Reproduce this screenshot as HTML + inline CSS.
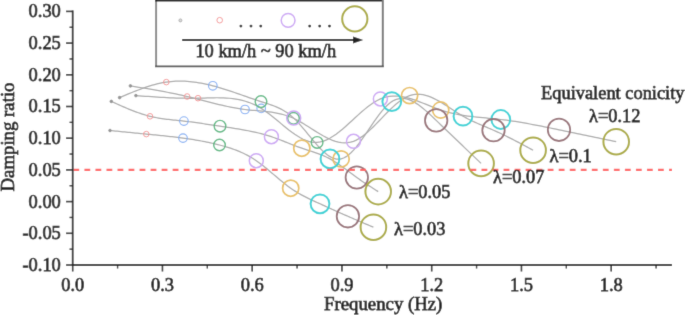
<!DOCTYPE html>
<html><head><meta charset="utf-8"><style>
html,body{margin:0;padding:0;background:#fff;}
body{width:685px;height:315px;overflow:hidden;}
svg{display:block;}
.t{font-family:"Liberation Serif",serif;font-size:18.4px;fill:#222;stroke:#222;stroke-width:0.75px;}
.ax{font-size:18.8px;}
</style></head><body>
<svg width="685" height="315" viewBox="0 0 685 315">
<defs><filter id="bl" filterUnits="userSpaceOnUse" x="0" y="0" width="685" height="315"><feConvolveMatrix order="3" kernelMatrix="0.01134 0.08382 0.01134 0.08382 0.61935 0.08382 0.01134 0.08382 0.01134" divisor="1" edgeMode="duplicate" preserveAlpha="false"/></filter></defs>
<g filter="url(#bl)">
<rect x="0" y="0" width="685" height="315" fill="#fff"/>
<path d="M110.00,130.50 L111.81,130.68 L113.63,130.86 L115.45,131.04 L117.26,131.23 L119.08,131.41 L120.89,131.59 L122.70,131.77 L124.52,131.95 L126.34,132.13 L128.15,132.31 L129.97,132.49 L131.78,132.67 L133.59,132.85 L135.41,133.03 L137.23,133.21 L139.04,133.39 L140.86,133.57 L142.67,133.75 L144.49,133.92 L146.30,134.10 L148.14,134.28 L149.97,134.46 L151.81,134.64 L153.64,134.81 L155.48,134.99 L157.31,135.18 L159.15,135.36 L160.98,135.55 L162.81,135.73 L164.65,135.93 L166.49,136.12 L168.32,136.32 L170.16,136.52 L171.99,136.73 L173.82,136.95 L175.66,137.16 L177.50,137.39 L179.33,137.62 L181.16,137.86 L183.00,138.10 L184.82,138.35 L186.65,138.61 L188.47,138.87 L190.30,139.15 L192.12,139.43 L193.95,139.73 L195.78,140.03 L197.60,140.34 L199.43,140.66 L201.25,141.00 L203.07,141.34 L204.90,141.70 L206.72,142.06 L208.55,142.44 L210.38,142.84 L212.20,143.24 L214.03,143.66 L215.85,144.09 L217.68,144.54 L219.50,145.00 L221.34,145.48 L223.18,145.98 L225.02,146.49 L226.86,147.03 L228.70,147.60 L230.54,148.19 L232.38,148.81 L234.22,149.47 L236.06,150.15 L237.90,150.88 L239.74,151.64 L241.58,152.45 L243.42,153.30 L245.26,154.20 L247.10,155.14 L248.94,156.14 L250.78,157.19 L252.62,158.30 L254.46,159.47 L256.30,160.70 L258.02,161.91 L259.74,163.16 L261.46,164.46 L263.18,165.80 L264.90,167.18 L266.62,168.58 L268.34,170.01 L270.06,171.45 L271.78,172.91 L273.50,174.37 L275.22,175.83 L276.94,177.30 L278.66,178.75 L280.38,180.19 L282.10,181.60 L283.82,183.00 L285.54,184.36 L287.26,185.68 L288.98,186.96 L290.70,188.20 L292.16,189.21 L293.63,190.19 L295.09,191.13 L296.56,192.04 L298.02,192.92 L299.49,193.77 L300.95,194.60 L302.42,195.40 L303.88,196.17 L305.35,196.93 L306.81,197.67 L308.28,198.39 L309.75,199.10 L311.21,199.79 L312.68,200.48 L314.14,201.15 L315.61,201.82 L317.07,202.48 L318.54,203.14 L320.00,203.80 L321.39,204.43 L322.79,205.06 L324.19,205.69 L325.58,206.32 L326.98,206.95 L328.37,207.57 L329.76,208.20 L331.16,208.83 L332.56,209.46 L333.95,210.09 L335.34,210.72 L336.74,211.34 L338.13,211.97 L339.53,212.59 L340.92,213.22 L342.32,213.84 L343.71,214.46 L345.11,215.07 L346.50,215.69 L347.90,216.30 L349.24,216.89 L350.58,217.47 L351.93,218.05 L353.27,218.64 L354.61,219.21 L355.95,219.79 L357.29,220.37 L358.64,220.94 L359.98,221.52 L361.32,222.09 L362.66,222.66 L364.01,223.23 L365.35,223.80 L366.69,224.37 L368.03,224.93 L369.37,225.50 L370.72,226.07 L372.06,226.63 L373.40,227.20" fill="none" stroke="#aaaaaa" stroke-width="1.25"/>
<path d="M111.30,101.40 L113.23,102.28 L115.17,103.15 L117.10,104.03 L119.04,104.89 L120.97,105.75 L122.91,106.60 L124.84,107.44 L126.78,108.26 L128.72,109.06 L130.65,109.85 L132.59,110.62 L134.52,111.37 L136.45,112.09 L138.39,112.78 L140.32,113.45 L142.26,114.09 L144.19,114.70 L146.13,115.27 L148.06,115.80 L150.00,116.30 L151.69,116.70 L153.39,117.08 L155.09,117.43 L156.78,117.75 L158.47,118.05 L160.17,118.33 L161.87,118.59 L163.56,118.83 L165.25,119.06 L166.95,119.27 L168.65,119.47 L170.34,119.67 L172.03,119.85 L173.73,120.03 L175.43,120.21 L177.12,120.38 L178.81,120.56 L180.51,120.73 L182.21,120.91 L183.90,121.10 L185.71,121.31 L187.51,121.52 L189.31,121.75 L191.12,121.98 L192.93,122.22 L194.73,122.46 L196.53,122.71 L198.34,122.96 L200.15,123.22 L201.95,123.48 L203.75,123.75 L205.56,124.02 L207.37,124.29 L209.17,124.56 L210.97,124.84 L212.78,125.11 L214.59,125.38 L216.39,125.66 L218.19,125.93 L220.00,126.20 L222.57,126.58 L225.14,126.96 L227.71,127.34 L230.28,127.72 L232.85,128.11 L235.42,128.51 L237.99,128.93 L240.56,129.35 L243.13,129.80 L245.70,130.26 L248.27,130.75 L250.84,131.27 L253.41,131.82 L255.98,132.39 L258.55,133.01 L261.12,133.66 L263.69,134.35 L266.26,135.09 L268.83,135.87 L271.40,136.70 L272.92,137.22 L274.44,137.75 L275.96,138.30 L277.48,138.86 L279.00,139.43 L280.52,140.01 L282.04,140.60 L283.56,141.20 L285.08,141.80 L286.60,142.40 L288.12,143.00 L289.64,143.61 L291.16,144.21 L292.68,144.80 L294.20,145.39 L295.72,145.98 L297.24,146.55 L298.76,147.11 L300.28,147.66 L301.80,148.20 L303.21,148.68 L304.62,149.15 L306.03,149.62 L307.44,150.08 L308.85,150.53 L310.26,150.99 L311.67,151.44 L313.08,151.91 L314.49,152.38 L315.90,152.86 L317.31,153.36 L318.72,153.87 L320.13,154.40 L321.54,154.95 L322.95,155.53 L324.36,156.14 L325.77,156.78 L327.18,157.45 L328.59,158.15 L330.00,158.90 L331.34,159.65 L332.68,160.43 L334.02,161.24 L335.36,162.08 L336.70,162.95 L338.04,163.85 L339.38,164.76 L340.72,165.70 L342.06,166.65 L343.40,167.62 L344.74,168.60 L346.08,169.59 L347.42,170.58 L348.76,171.58 L350.10,172.58 L351.44,173.58 L352.78,174.57 L354.12,175.56 L355.46,176.53 L356.80,177.50 L357.93,178.30 L359.05,179.09 L360.18,179.88 L361.31,180.65 L362.43,181.42 L363.56,182.17 L364.68,182.93 L365.81,183.67 L366.94,184.41 L368.06,185.15 L369.19,185.87 L370.32,186.60 L371.44,187.32 L372.57,188.04 L373.69,188.75 L374.82,189.47 L375.95,190.18 L377.07,190.89 L378.20,191.60" fill="none" stroke="#aaaaaa" stroke-width="1.25"/>
<path d="M119.60,97.60 L121.94,96.61 L124.27,95.63 L126.60,94.65 L128.94,93.68 L131.28,92.72 L133.61,91.78 L135.94,90.86 L138.28,89.96 L140.62,89.09 L142.95,88.24 L145.28,87.43 L147.62,86.65 L149.96,85.92 L152.29,85.22 L154.62,84.57 L156.96,83.97 L159.30,83.41 L161.63,82.92 L163.97,82.48 L166.30,82.10 L168.62,81.79 L170.95,81.54 L173.28,81.34 L175.60,81.21 L177.93,81.14 L180.25,81.12 L182.58,81.16 L184.90,81.24 L187.23,81.38 L189.55,81.57 L191.88,81.80 L194.20,82.09 L196.53,82.41 L198.85,82.78 L201.18,83.19 L203.50,83.64 L205.83,84.13 L208.15,84.65 L210.48,85.21 L212.80,85.80 L215.21,86.45 L217.62,87.12 L220.03,87.83 L222.44,88.56 L224.85,89.32 L227.26,90.09 L229.67,90.88 L232.08,91.69 L234.49,92.51 L236.90,93.34 L239.31,94.18 L241.72,95.02 L244.13,95.87 L246.54,96.71 L248.95,97.55 L251.36,98.38 L253.77,99.21 L256.18,100.02 L258.59,100.82 L261.00,101.60 L262.63,102.12 L264.27,102.64 L265.90,103.16 L267.54,103.69 L269.18,104.23 L270.81,104.79 L272.44,105.38 L274.08,106.00 L275.71,106.66 L277.35,107.37 L278.99,108.12 L280.62,108.93 L282.25,109.80 L283.89,110.74 L285.52,111.75 L287.16,112.84 L288.79,114.01 L290.43,115.27 L292.06,116.64 L293.70,118.10 L296.07,120.41 L298.44,122.90 L300.81,125.56 L303.18,128.33 L305.55,131.18 L307.92,134.07 L310.29,136.98 L312.66,139.86 L315.03,142.67 L317.40,145.38 L319.77,147.95 L322.14,150.35 L324.51,152.54 L326.88,154.48 L329.25,156.14 L331.62,157.48 L333.99,158.46 L336.36,159.05 L338.73,159.21 L341.10,158.90 L343.64,158.03 L346.17,156.64 L348.71,154.77 L351.24,152.49 L353.78,149.84 L356.31,146.87 L358.85,143.65 L361.38,140.21 L363.92,136.62 L366.45,132.92 L368.99,129.16 L371.52,125.41 L374.06,121.71 L376.59,118.11 L379.12,114.66 L381.66,111.43 L384.19,108.45 L386.73,105.79 L389.26,103.48 L391.80,101.60 L394.02,100.32 L396.24,99.39 L398.46,98.78 L400.68,98.47 L402.90,98.45 L405.12,98.70 L407.34,99.21 L409.56,99.94 L411.78,100.89 L414.00,102.04 L416.22,103.37 L418.44,104.85 L420.66,106.48 L422.88,108.24 L425.10,110.10 L427.32,112.06 L429.54,114.08 L431.76,116.16 L433.98,118.27 L436.20,120.40 L438.56,122.67 L440.93,124.94 L443.29,127.20 L445.65,129.47 L448.02,131.74 L450.38,134.00 L452.74,136.26 L455.11,138.53 L457.47,140.79 L459.83,143.05 L462.19,145.32 L464.56,147.58 L466.92,149.84 L469.28,152.10 L471.65,154.36 L474.01,156.62 L476.37,158.88 L478.74,161.14 L481.10,163.40" fill="none" stroke="#aaaaaa" stroke-width="1.25"/>
<path d="M130.40,85.90 L133.24,86.36 L136.07,86.82 L138.91,87.28 L141.74,87.75 L144.57,88.22 L147.41,88.69 L150.25,89.18 L153.08,89.66 L155.91,90.16 L158.75,90.67 L161.59,91.19 L164.42,91.72 L167.25,92.26 L170.09,92.81 L172.93,93.39 L175.76,93.97 L178.59,94.58 L181.43,95.20 L184.26,95.84 L187.10,96.50 L190.00,97.20 L192.89,97.91 L195.78,98.64 L198.68,99.38 L201.57,100.12 L204.47,100.87 L207.37,101.62 L210.26,102.36 L213.16,103.10 L216.05,103.82 L218.94,104.53 L221.84,105.21 L224.74,105.87 L227.63,106.51 L230.53,107.11 L233.42,107.67 L236.31,108.20 L239.21,108.68 L242.11,109.12 L245.00,109.50 L247.43,109.78 L249.85,110.03 L252.28,110.26 L254.70,110.47 L257.12,110.68 L259.55,110.89 L261.98,111.10 L264.40,111.33 L266.82,111.59 L269.25,111.88 L271.68,112.21 L274.10,112.59 L276.52,113.02 L278.95,113.52 L281.38,114.09 L283.80,114.74 L286.23,115.48 L288.65,116.31 L291.07,117.25 L293.50,118.30 L296.50,119.76 L299.50,121.36 L302.50,123.09 L305.50,124.91 L308.50,126.79 L311.50,128.70 L314.50,130.61 L317.50,132.48 L320.50,134.30 L323.50,136.01 L326.50,137.61 L329.50,139.05 L332.50,140.30 L335.50,141.34 L338.50,142.13 L341.50,142.64 L344.50,142.85 L347.50,142.71 L350.50,142.21 L353.50,141.30 L356.31,140.07 L359.11,138.51 L361.92,136.64 L364.72,134.51 L367.52,132.16 L370.33,129.62 L373.13,126.93 L375.94,124.12 L378.75,121.25 L381.55,118.33 L384.36,115.42 L387.16,112.56 L389.97,109.76 L392.77,107.09 L395.58,104.57 L398.38,102.24 L401.19,100.14 L403.99,98.31 L406.80,96.78 L409.60,95.60 L412.27,94.82 L414.94,94.36 L417.61,94.21 L420.28,94.33 L422.95,94.71 L425.62,95.33 L428.29,96.16 L430.96,97.18 L433.63,98.37 L436.30,99.70 L438.97,101.16 L441.64,102.72 L444.31,104.36 L446.98,106.05 L449.65,107.79 L452.32,109.53 L454.99,111.27 L457.66,112.97 L460.33,114.62 L463.00,116.20 L464.52,117.06 L466.05,117.89 L467.57,118.69 L469.10,119.47 L470.62,120.22 L472.15,120.95 L473.68,121.66 L475.20,122.36 L476.73,123.04 L478.25,123.71 L479.77,124.37 L481.30,125.02 L482.82,125.66 L484.35,126.31 L485.88,126.95 L487.40,127.59 L488.93,128.23 L490.45,128.88 L491.98,129.53 L493.50,130.20 L495.58,131.13 L497.67,132.07 L499.75,133.04 L501.84,134.03 L503.92,135.03 L506.01,136.04 L508.09,137.08 L510.17,138.12 L512.26,139.18 L514.34,140.25 L516.43,141.33 L518.51,142.42 L520.59,143.52 L522.68,144.62 L524.76,145.73 L526.85,146.84 L528.93,147.96 L531.02,149.08 L533.10,150.20" fill="none" stroke="#aaaaaa" stroke-width="1.25"/>
<path d="M135.90,95.60 L139.00,95.83 L142.11,96.05 L145.22,96.27 L148.32,96.49 L151.43,96.70 L154.53,96.91 L157.63,97.10 L160.74,97.29 L163.84,97.46 L166.95,97.62 L170.06,97.77 L173.16,97.90 L176.26,98.01 L179.37,98.11 L182.47,98.18 L185.58,98.23 L188.69,98.26 L191.79,98.27 L194.89,98.25 L198.00,98.20 L201.16,98.12 L204.32,98.03 L207.48,97.93 L210.64,97.85 L213.80,97.78 L216.96,97.75 L220.12,97.77 L223.28,97.85 L226.44,98.01 L229.60,98.25 L232.76,98.60 L235.92,99.06 L239.08,99.64 L242.24,100.37 L245.40,101.25 L248.56,102.29 L251.72,103.52 L254.88,104.93 L258.04,106.56 L261.20,108.40 L264.00,110.22 L266.79,112.19 L269.58,114.28 L272.38,116.47 L275.18,118.74 L277.97,121.05 L280.76,123.37 L283.56,125.68 L286.36,127.95 L289.15,130.16 L291.94,132.27 L294.74,134.25 L297.54,136.09 L300.33,137.74 L303.12,139.20 L305.92,140.41 L308.72,141.37 L311.51,142.04 L314.31,142.39 L317.10,142.40 L320.27,141.97 L323.43,141.11 L326.60,139.86 L329.76,138.25 L332.93,136.33 L336.09,134.15 L339.25,131.74 L342.42,129.15 L345.58,126.42 L348.75,123.58 L351.92,120.69 L355.08,117.78 L358.25,114.89 L361.41,112.07 L364.57,109.36 L367.74,106.80 L370.90,104.43 L374.07,102.30 L377.23,100.44 L380.40,98.90 L383.41,97.76 L386.43,96.92 L389.44,96.36 L392.46,96.07 L395.47,96.02 L398.49,96.19 L401.50,96.56 L404.52,97.11 L407.53,97.82 L410.55,98.66 L413.56,99.62 L416.58,100.68 L419.59,101.81 L422.61,102.99 L425.62,104.20 L428.64,105.42 L431.65,106.64 L434.67,107.82 L437.69,108.95 L440.70,110.00 L443.70,110.96 L446.71,111.84 L449.71,112.63 L452.72,113.34 L455.73,113.99 L458.73,114.57 L461.74,115.10 L464.74,115.58 L467.75,116.01 L470.75,116.40 L473.75,116.75 L476.76,117.08 L479.76,117.39 L482.77,117.69 L485.77,117.98 L488.78,118.26 L491.79,118.55 L494.79,118.85 L497.80,119.16 L500.80,119.50 L503.71,119.85 L506.62,120.23 L509.53,120.63 L512.44,121.05 L515.35,121.49 L518.26,121.96 L521.17,122.44 L524.08,122.94 L526.99,123.46 L529.90,123.99 L532.81,124.53 L535.72,125.08 L538.63,125.65 L541.54,126.23 L544.45,126.81 L547.36,127.40 L550.27,127.99 L553.18,128.59 L556.09,129.20 L559.00,129.80 L562.01,130.43 L565.02,131.05 L568.03,131.68 L571.04,132.30 L574.05,132.93 L577.06,133.55 L580.07,134.18 L583.08,134.81 L586.09,135.43 L589.11,136.06 L592.12,136.69 L595.13,137.31 L598.14,137.94 L601.15,138.57 L604.16,139.19 L607.17,139.82 L610.18,140.45 L613.19,141.07 L616.20,141.70" fill="none" stroke="#aaaaaa" stroke-width="1.25"/>
<circle cx="110" cy="130.5" r="1.3" fill="#959595" stroke="#959595" stroke-width="1.0"/>
<circle cx="111.3" cy="101.4" r="1.3" fill="#959595" stroke="#959595" stroke-width="1.0"/>
<circle cx="119.6" cy="97.6" r="1.3" fill="#959595" stroke="#959595" stroke-width="1.0"/>
<circle cx="130.4" cy="85.9" r="1.3" fill="#959595" stroke="#959595" stroke-width="1.0"/>
<circle cx="135.9" cy="95.6" r="1.3" fill="#959595" stroke="#959595" stroke-width="1.0"/>
<circle cx="146.3" cy="134.1" r="2.8" fill="none" stroke="#f39494" stroke-width="0.95"/>
<circle cx="150" cy="116.3" r="2.8" fill="none" stroke="#f39494" stroke-width="0.95"/>
<circle cx="166.3" cy="82.1" r="2.8" fill="none" stroke="#f39494" stroke-width="0.95"/>
<circle cx="187.1" cy="96.5" r="2.8" fill="none" stroke="#f39494" stroke-width="0.95"/>
<circle cx="198" cy="98.2" r="2.8" fill="none" stroke="#f39494" stroke-width="0.95"/>
<circle cx="183" cy="138.1" r="4.3" fill="none" stroke="#86b0f3" stroke-width="1.15"/>
<circle cx="183.9" cy="121.1" r="4.3" fill="none" stroke="#86b0f3" stroke-width="1.15"/>
<circle cx="212.8" cy="85.8" r="4.3" fill="none" stroke="#86b0f3" stroke-width="1.15"/>
<circle cx="245" cy="109.5" r="4.3" fill="none" stroke="#86b0f3" stroke-width="1.15"/>
<circle cx="261.2" cy="108.4" r="4.3" fill="none" stroke="#86b0f3" stroke-width="1.15"/>
<circle cx="219.5" cy="145" r="5.8" fill="none" stroke="#5cb882" stroke-width="1.4"/>
<circle cx="220" cy="126.2" r="5.8" fill="none" stroke="#5cb882" stroke-width="1.4"/>
<circle cx="261" cy="101.6" r="5.8" fill="none" stroke="#5cb882" stroke-width="1.4"/>
<circle cx="293.5" cy="118.3" r="5.8" fill="none" stroke="#5cb882" stroke-width="1.4"/>
<circle cx="317.1" cy="142.4" r="5.8" fill="none" stroke="#5cb882" stroke-width="1.4"/>
<circle cx="256.3" cy="160.7" r="7.0" fill="none" stroke="#cda8f4" stroke-width="1.5"/>
<circle cx="271.4" cy="136.7" r="7.0" fill="none" stroke="#cda8f4" stroke-width="1.5"/>
<circle cx="293.7" cy="118.1" r="7.0" fill="none" stroke="#cda8f4" stroke-width="1.5"/>
<circle cx="353.5" cy="141.3" r="7.0" fill="none" stroke="#cda8f4" stroke-width="1.5"/>
<circle cx="380.4" cy="98.9" r="7.0" fill="none" stroke="#cda8f4" stroke-width="1.5"/>
<circle cx="290.7" cy="188.2" r="8.1" fill="none" stroke="#e8c063" stroke-width="1.7"/>
<circle cx="301.8" cy="148.2" r="8.1" fill="none" stroke="#e8c063" stroke-width="1.7"/>
<circle cx="341.1" cy="158.9" r="8.1" fill="none" stroke="#e8c063" stroke-width="1.7"/>
<circle cx="409.6" cy="95.6" r="8.1" fill="none" stroke="#e8c063" stroke-width="1.7"/>
<circle cx="440.7" cy="110" r="8.1" fill="none" stroke="#e8c063" stroke-width="1.7"/>
<circle cx="320" cy="203.8" r="9.4" fill="none" stroke="#36d2d6" stroke-width="2.0"/>
<circle cx="330" cy="158.9" r="9.4" fill="none" stroke="#36d2d6" stroke-width="2.0"/>
<circle cx="391.8" cy="101.6" r="9.4" fill="none" stroke="#36d2d6" stroke-width="2.0"/>
<circle cx="463" cy="116.2" r="9.4" fill="none" stroke="#36d2d6" stroke-width="2.0"/>
<circle cx="500.8" cy="119.5" r="9.4" fill="none" stroke="#36d2d6" stroke-width="2.0"/>
<circle cx="347.9" cy="216.3" r="11.2" fill="none" stroke="#987278" stroke-width="1.8"/>
<circle cx="356.8" cy="177.5" r="11.2" fill="none" stroke="#987278" stroke-width="1.8"/>
<circle cx="436.2" cy="120.4" r="11.2" fill="none" stroke="#987278" stroke-width="1.8"/>
<circle cx="493.5" cy="130.2" r="11.2" fill="none" stroke="#987278" stroke-width="1.8"/>
<circle cx="559" cy="129.8" r="11.2" fill="none" stroke="#987278" stroke-width="1.8"/>
<circle cx="373.4" cy="227.2" r="12.8" fill="none" stroke="#abab40" stroke-width="2.0"/>
<circle cx="378.2" cy="191.6" r="12.8" fill="none" stroke="#abab40" stroke-width="2.0"/>
<circle cx="481.1" cy="163.4" r="12.8" fill="none" stroke="#abab40" stroke-width="2.0"/>
<circle cx="533.1" cy="150.2" r="12.8" fill="none" stroke="#abab40" stroke-width="2.0"/>
<circle cx="616.2" cy="141.7" r="12.8" fill="none" stroke="#abab40" stroke-width="2.0"/>
<line x1="73.4" y1="169.8" x2="672" y2="169.8" stroke="#ff6464" stroke-width="2.2" stroke-dasharray="5.8 5.23"/>
<line x1="72.7" y1="10.40" x2="72.7" y2="265.00" stroke="#2b2b2b" stroke-width="1.8"/>
<line x1="71.8" y1="265.00" x2="672" y2="265.00" stroke="#2b2b2b" stroke-width="1.8"/>
<line x1="66" y1="11.40" x2="72.7" y2="11.40" stroke="#2b2b2b" stroke-width="1.6"/>
<line x1="69.5" y1="27.25" x2="72.7" y2="27.25" stroke="#2b2b2b" stroke-width="1.4"/>
<text x="60.8" y="17.30" text-anchor="end" class="t">0.30</text>
<line x1="66" y1="43.10" x2="72.7" y2="43.10" stroke="#2b2b2b" stroke-width="1.6"/>
<line x1="69.5" y1="58.95" x2="72.7" y2="58.95" stroke="#2b2b2b" stroke-width="1.4"/>
<text x="60.8" y="49.00" text-anchor="end" class="t">0.25</text>
<line x1="66" y1="74.80" x2="72.7" y2="74.80" stroke="#2b2b2b" stroke-width="1.6"/>
<line x1="69.5" y1="90.65" x2="72.7" y2="90.65" stroke="#2b2b2b" stroke-width="1.4"/>
<text x="60.8" y="80.70" text-anchor="end" class="t">0.20</text>
<line x1="66" y1="106.50" x2="72.7" y2="106.50" stroke="#2b2b2b" stroke-width="1.6"/>
<line x1="69.5" y1="122.35" x2="72.7" y2="122.35" stroke="#2b2b2b" stroke-width="1.4"/>
<text x="60.8" y="112.40" text-anchor="end" class="t">0.15</text>
<line x1="66" y1="138.20" x2="72.7" y2="138.20" stroke="#2b2b2b" stroke-width="1.6"/>
<line x1="69.5" y1="154.05" x2="72.7" y2="154.05" stroke="#2b2b2b" stroke-width="1.4"/>
<text x="60.8" y="144.10" text-anchor="end" class="t">0.10</text>
<line x1="66" y1="169.90" x2="72.7" y2="169.90" stroke="#2b2b2b" stroke-width="1.6"/>
<line x1="69.5" y1="185.75" x2="72.7" y2="185.75" stroke="#2b2b2b" stroke-width="1.4"/>
<text x="60.8" y="175.80" text-anchor="end" class="t">0.05</text>
<line x1="66" y1="201.60" x2="72.7" y2="201.60" stroke="#2b2b2b" stroke-width="1.6"/>
<line x1="69.5" y1="217.45" x2="72.7" y2="217.45" stroke="#2b2b2b" stroke-width="1.4"/>
<text x="60.8" y="207.50" text-anchor="end" class="t">0.00</text>
<line x1="66" y1="233.30" x2="72.7" y2="233.30" stroke="#2b2b2b" stroke-width="1.6"/>
<line x1="69.5" y1="249.15" x2="72.7" y2="249.15" stroke="#2b2b2b" stroke-width="1.4"/>
<text x="60.8" y="239.20" text-anchor="end" class="t">-0.05</text>
<line x1="66" y1="265.00" x2="72.7" y2="265.00" stroke="#2b2b2b" stroke-width="1.6"/>
<text x="60.8" y="270.90" text-anchor="end" class="t">-0.10</text>
<line x1="72.70" y1="265.00" x2="72.70" y2="271.50" stroke="#2b2b2b" stroke-width="1.6"/>
<line x1="117.58" y1="265.00" x2="117.58" y2="268.50" stroke="#2b2b2b" stroke-width="1.4"/>
<text x="72.70" y="291" text-anchor="middle" class="t">0.0</text>
<line x1="162.45" y1="265.00" x2="162.45" y2="271.50" stroke="#2b2b2b" stroke-width="1.6"/>
<line x1="207.32" y1="265.00" x2="207.32" y2="268.50" stroke="#2b2b2b" stroke-width="1.4"/>
<text x="162.45" y="291" text-anchor="middle" class="t">0.3</text>
<line x1="252.20" y1="265.00" x2="252.20" y2="271.50" stroke="#2b2b2b" stroke-width="1.6"/>
<line x1="297.07" y1="265.00" x2="297.07" y2="268.50" stroke="#2b2b2b" stroke-width="1.4"/>
<text x="252.20" y="291" text-anchor="middle" class="t">0.6</text>
<line x1="341.95" y1="265.00" x2="341.95" y2="271.50" stroke="#2b2b2b" stroke-width="1.6"/>
<line x1="386.82" y1="265.00" x2="386.82" y2="268.50" stroke="#2b2b2b" stroke-width="1.4"/>
<text x="341.95" y="291" text-anchor="middle" class="t">0.9</text>
<line x1="431.70" y1="265.00" x2="431.70" y2="271.50" stroke="#2b2b2b" stroke-width="1.6"/>
<line x1="476.57" y1="265.00" x2="476.57" y2="268.50" stroke="#2b2b2b" stroke-width="1.4"/>
<text x="431.70" y="291" text-anchor="middle" class="t">1.2</text>
<line x1="521.45" y1="265.00" x2="521.45" y2="271.50" stroke="#2b2b2b" stroke-width="1.6"/>
<line x1="566.33" y1="265.00" x2="566.33" y2="268.50" stroke="#2b2b2b" stroke-width="1.4"/>
<text x="521.45" y="291" text-anchor="middle" class="t">1.5</text>
<line x1="611.20" y1="265.00" x2="611.20" y2="271.50" stroke="#2b2b2b" stroke-width="1.6"/>
<line x1="656.08" y1="265.00" x2="656.08" y2="268.50" stroke="#2b2b2b" stroke-width="1.4"/>
<text x="611.20" y="291" text-anchor="middle" class="t">1.8</text>
<text x="383.2" y="309.5" text-anchor="middle" class="t ax">Frequency (Hz)</text>
<text transform="translate(13.9,137) rotate(-90)" text-anchor="middle" class="t ax">Damping ratio</text>
<text x="612.8" y="99.2" text-anchor="middle" class="t">Equivalent conicity</text>
<text x="589" y="121.5" class="t">λ=0.12</text>
<text x="549.5" y="161.5" class="t">λ=0.1</text>
<text x="493" y="182.5" class="t">λ=0.07</text>
<text x="399" y="197.5" class="t">λ=0.05</text>
<text x="394" y="235" class="t">λ=0.03</text>
<rect x="156.1" y="0.2" width="226.7" height="66.2" fill="#fff" stroke="none"/>
<line x1="156.1" y1="0" x2="156.1" y2="66.5" stroke="#8a8a8a" stroke-width="2"/>
<line x1="155" y1="0.5" x2="383" y2="0.5" stroke="#222" stroke-width="2"/>
<line x1="382.8" y1="0" x2="382.8" y2="67" stroke="#777" stroke-width="2"/>
<line x1="155" y1="66.4" x2="383.8" y2="66.4" stroke="#555" stroke-width="1.8"/>
<circle cx="180.4" cy="20.4" r="1.5" fill="#dcdcdc" stroke="#a8a8a8" stroke-width="0.9"/>
<circle cx="219.7" cy="20.2" r="2.8" fill="none" stroke="#f59a9a" stroke-width="1.0"/>
<circle cx="288.1" cy="20.3" r="6.9" fill="none" stroke="#cda8f4" stroke-width="1.5"/>
<circle cx="354.8" cy="18.9" r="12.6" fill="none" stroke="#abab40" stroke-width="2"/>
<circle cx="240.9" cy="26.1" r="1.4" fill="#222"/>
<circle cx="251" cy="26.1" r="1.4" fill="#222"/>
<circle cx="260.8" cy="26.1" r="1.4" fill="#222"/>
<circle cx="309.7" cy="26.1" r="1.4" fill="#222"/>
<circle cx="319.7" cy="26.1" r="1.4" fill="#222"/>
<circle cx="329.5" cy="26.1" r="1.4" fill="#222"/>
<line x1="182.2" y1="40" x2="354" y2="40" stroke="#222" stroke-width="1.8"/>
<path d="M353,36.6 L363.2,40 L353,43.4 Z" fill="#222"/>
<text x="195.4" y="57" class="t">10 km/h ~ 90 km/h</text>
</g>
</svg>
</body></html>
